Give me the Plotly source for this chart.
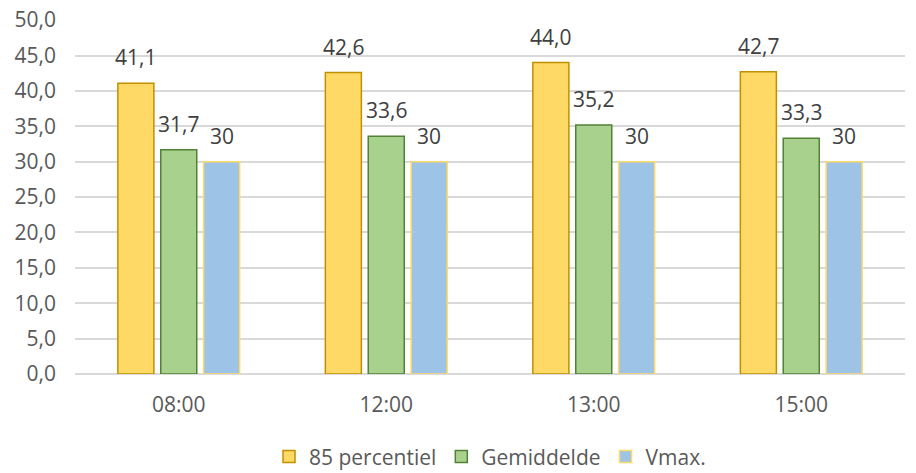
import plotly.graph_objects as go

categories = ["08:00", "12:00", "13:00", "15:00"]
p85 = [41.1, 42.6, 44.0, 42.7]
gemiddelde = [31.7, 33.6, 35.2, 33.3]
vmax = [30, 30, 30, 30]

series = [
    ("85 percentiel", p85, "#FFD966", "#BF9000", lambda v: f"{v:.1f}".replace(".", ",")),
    ("Gemiddelde", gemiddelde, "#A9D18E", "#538135", lambda v: f"{v:.1f}".replace(".", ",")),
    ("Vmax.", vmax, "#9DC3E6", "#FFD966", lambda v: f"{v:g}"),
]

W, H = 916, 473
ML, MR, MT, MB = 75, 11, 20, 99
BARGAP = 0.38
FS = 21
plot_w = W - ML - MR
slot = plot_w / len(categories) * (1 - BARGAP) / len(series)

fig = go.Figure()
annotations = []
for i, (name, vals, fill, line, fmt) in enumerate(series):
    fig.add_trace(go.Bar(
        name=name, x=categories, y=vals,
        marker=dict(color=fill, line=dict(color=line, width=1.5)),
    ))
    shift = (i - (len(series) - 1) / 2) * slot
    for c, v in zip(categories, vals):
        annotations.append(dict(
            x=c, y=v, xref="x", yref="y", text=fmt(v), showarrow=False,
            xshift=shift, yanchor="bottom", yshift=10,
            font=dict(size=FS, color="#404040", family="Open Sans"),
        ))

fig.update_layout(
    width=W, height=H,
    margin=dict(l=ML, r=MR, t=MT, b=MB, autoexpand=False),
    plot_bgcolor="white", paper_bgcolor="white",
    barmode="group", bargap=BARGAP, bargroupgap=0.16,
    separators=",.",
    font=dict(family="Open Sans", size=FS, color="#595959"),
    annotations=annotations,
    xaxis=dict(showgrid=False, showline=False, ticks="", automargin=False,
               ticklabelstandoff=16, tickfont=dict(size=FS, color="#595959")),
    yaxis=dict(range=[0, 50.02], tickmode="linear", tick0=0, dtick=5, tickformat=".1f",
               gridcolor="#D9D9D9", gridwidth=1.5,
               zeroline=True, zerolinecolor="#D9D9D9", zerolinewidth=1.5, automargin=False,
               showline=False, ticks="", ticklabelstandoff=18, ticklabeloverflow="allow",
               tickfont=dict(size=FS, color="#595959")),
    legend=dict(orientation="h", x=0.5, xanchor="center", y=-0.234, yanchor="middle",
                font=dict(size=FS, color="#595959"), itemwidth=30, traceorder="normal"),
    showlegend=True,
)
fig.write_html(
    "out.html",
    config={"displayModeBar": False},
    post_script="document.body.style.margin='0';document.body.style.overflow='hidden';",
)
